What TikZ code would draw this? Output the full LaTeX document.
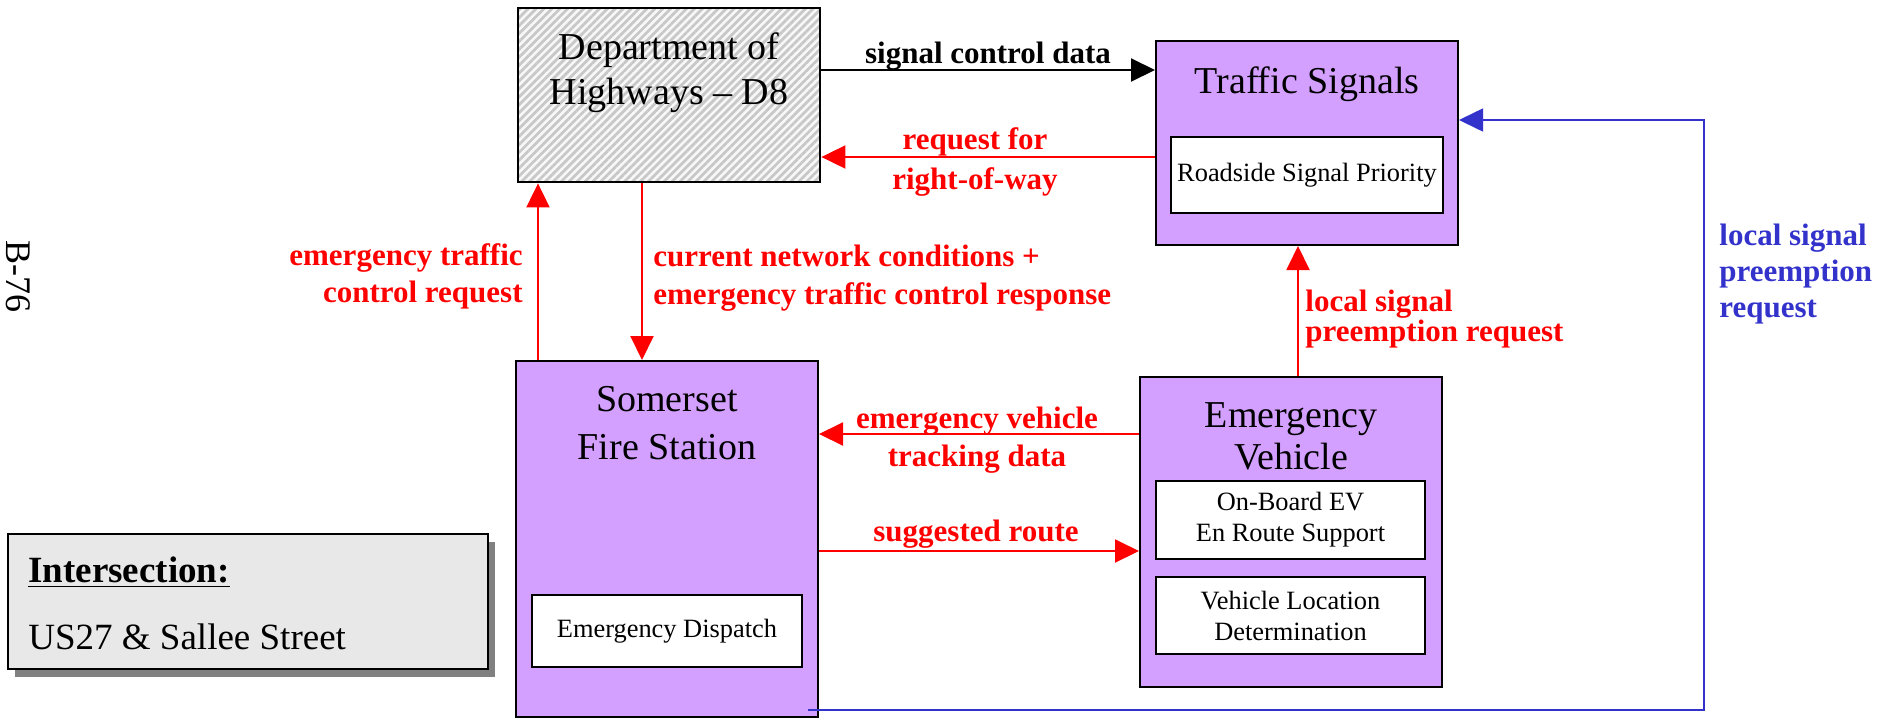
\documentclass[tikz,border=0pt]{standalone}
\usepackage{fontspec}
\setmainfont{Liberation Serif}
\usepackage{xcolor}
\usetikzlibrary{arrows.meta,shapes,positioning,calc,patterns.meta,shadows}

\definecolor{boxpurple}{RGB}{212,160,255}
\definecolor{flowred}{RGB}{255,0,0}
\definecolor{flowblue}{RGB}{51,51,204}
\definecolor{hatchgray}{RGB}{200,200,200}
\definecolor{hatchbg}{RGB}{248,248,248}
\definecolor{notegray}{RGB}{232,232,232}

\tikzset{
  sysbox/.style={rectangle,draw,line width=1pt,fill=boxpurple,minimum width=151pt},
  hatchbox/.style={rectangle,draw,line width=1pt,preaction={fill=hatchbg},
    pattern={Lines[angle=45,distance=2.8pt,line width=1.4pt]},pattern color=hatchgray,
    minimum width=151pt},
  subbox/.style={rectangle,draw,line width=1pt,fill=white,align=center,
    font=\fontsize{13.2}{15.5}\selectfont},
  boxtitle/.style={align=center,inner sep=0pt,font=\fontsize{19}{22.5}\selectfont},
  flowlabel/.style={inner sep=0pt,font=\bfseries\fontsize{15.5}{19}\selectfont},
  flow/.style={line width=1pt,-{Triangle[length=12pt,width=11.5pt]}},
}

\begin{document}
\begin{tikzpicture}[x=0.5pt,y=-0.5pt]
\useasboundingbox (0,0) rectangle (1902,719);

% Systems
\node[hatchbox,minimum height=87pt] (dept) at (669,95) {};
\node[boxtitle,below=13pt of dept.north] (depttitle) {Department of\\Highways – D8};

\node[sysbox,minimum height=102pt] (traffic) at (1307,143) {};
\node[boxtitle,below=13pt of traffic.north] (traffictitle) {Traffic Signals};
\node[subbox,minimum width=135pt,minimum height=38pt] (roadside) at (1307,175) {Roadside Signal Priority};

\node[sysbox,minimum height=178pt] (somerset) at (667,539) {};
\node[boxtitle,below=13pt of somerset.north,font=\fontsize{19}{24}\selectfont] (somersettitle) {Somerset\\Fire Station};
\node[subbox,minimum width=135pt,minimum height=36pt] (dispatch) at (667,631) {Emergency Dispatch};

\node[sysbox,minimum height=155pt] (ev) at (1291,532) {};
\node[boxtitle,below=13pt of ev.north,font=\fontsize{19}{21}\selectfont] (evtitle) {Emergency\\Vehicle};
\node[subbox,minimum width=134.5pt,minimum height=39pt] (onboard) at (1290.5,520) {On-Board EV\\En Route Support};
\node[subbox,minimum width=134.5pt,minimum height=38.5pt] (vehloc) at (1290.5,615.5) {Vehicle Location\\Determination};

% Intersection note
\node[rectangle,draw,line width=1pt,fill=notegray,minimum width=240pt,minimum height=67.5pt,
  drop shadow={shadow xshift=3.5pt,shadow yshift=-4pt,fill=black!50,opacity=1}] (note) at (248,601.5) {};
\node[anchor=west,inner sep=0pt,font=\bfseries\fontsize{18.5}{22}\selectfont] (notehead) at (28,572) {\underline{Intersection:}};
\node[anchor=west,inner sep=0pt,font=\fontsize{18.5}{22}\selectfont] (notetext) at (28,637) {US27 \& Sallee Street};

\node[rotate=-90,inner sep=0pt,font=\fontsize{18}{20}\selectfont] (page) at (18,276) {B-76};

% Flow helpers
\coordinate (ysig) at (0,70);
\coordinate (yrow) at (0,157);
\coordinate (xetc) at (538,0);
\coordinate (xcnc) at (642,0);
\coordinate (yevt) at (0,434);
\coordinate (yrte) at (0,551);
\coordinate (xlsp) at (1298,0);
\coordinate (xblue) at (1704,0);
\coordinate (yblue) at (0,120);
\coordinate (bluestart) at (808,710);

% Flows
\draw[flow] (dept.east |- ysig) -- (traffic.west |- ysig);
\draw[flow,flowred] (traffic.west |- yrow) -- (dept.east |- yrow);
\draw[flow,flowred] (somerset.north -| xetc) -- (dept.south -| xetc);
\draw[flow,flowred] (dept.south -| xcnc) -- (somerset.north -| xcnc);
\draw[flow,flowred] (ev.west |- yevt) -- (somerset.east |- yevt);
\draw[flow,flowred] (somerset.east |- yrte) -- (ev.west |- yrte);
\draw[flow,flowred] (ev.north -| xlsp) -- (traffic.south -| xlsp);
\draw[flow,flowblue,line width=0.8pt] (bluestart) -| (xblue |- yblue) -- (traffic.east |- yblue);

% Flow labels
\node[flowlabel] (lsig) at (988,56) {signal control data};
\node[flowlabel,text=flowred,align=center,font=\bfseries\fontsize{15.5}{20}\selectfont] (lrow) at (975,162) {request for\\right-of-way};
\node[flowlabel,text=flowred,align=right,anchor=east,font=\bfseries\fontsize{15.5}{18.5}\selectfont] (letc) at (523,276) {emergency traffic\\control request};
\node[flowlabel,text=flowred,align=left,anchor=west] (lcnc) at (653,278) {current network conditions +\\emergency traffic control response};
\node[flowlabel,text=flowred,align=center] (levt) at (977,440) {emergency vehicle\\tracking data};
\node[flowlabel,text=flowred] (lrte) at (976,534) {suggested route};
\node[flowlabel,text=flowred,align=left,anchor=west,font=\bfseries\fontsize{15.5}{15}\selectfont] (llsp) at (1305,319) {local signal\\preemption request};
\node[flowlabel,text=flowblue,align=left,anchor=west,font=\bfseries\fontsize{15.5}{18}\selectfont] (lblue) at (1719,274) {local signal\\preemption\\request};
\end{tikzpicture}
\end{document}
